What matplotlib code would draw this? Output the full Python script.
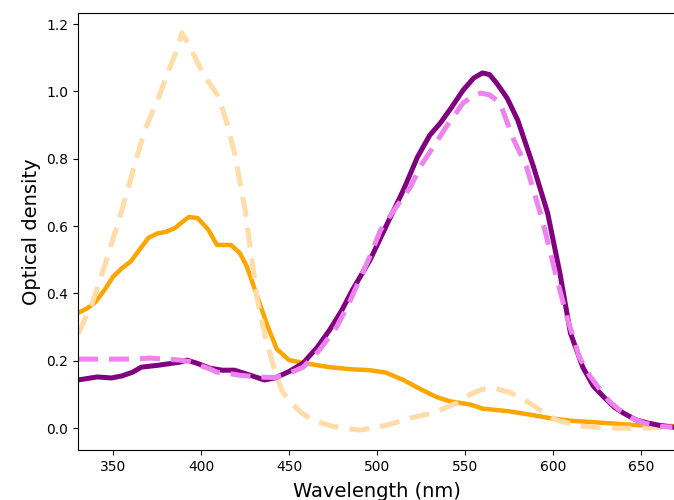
import numpy as np
import matplotlib
matplotlib.use("Agg")
import matplotlib.pyplot as plt

# --- data (wavelength nm, optical density) ---
wl_orange = [330, 335, 340, 345, 350, 355, 360, 365, 370, 375, 380, 385, 390, 393,
             398, 404, 409, 417, 422, 426, 430, 434, 438, 443, 450, 460, 473, 485,
             496, 505, 515, 525, 534, 541, 553, 560, 575, 587, 598, 610, 622, 636,
             650, 668]
od_orange = [0.342, 0.355, 0.375, 0.41, 0.45, 0.475, 0.495, 0.53, 0.565, 0.578,
             0.583, 0.594, 0.615, 0.627, 0.624, 0.59, 0.544, 0.544, 0.52, 0.48,
             0.42, 0.36, 0.30, 0.235, 0.202, 0.192, 0.181, 0.175, 0.172, 0.165,
             0.143, 0.115, 0.092, 0.080, 0.070, 0.058, 0.050, 0.040, 0.030, 0.022,
             0.018, 0.013, 0.008, 0.006]

wl_orange_ref = [330, 338, 345, 354, 361, 368, 375, 381, 386, 389, 393, 398, 404,
                 410, 415, 419, 425, 432, 437, 442, 446, 450, 456, 463, 475, 490,
                 505, 519, 532, 545, 553, 560, 568, 576, 587, 595, 602, 615, 631,
                 650, 668]
od_orange_ref = [0.28, 0.37, 0.48, 0.63, 0.76, 0.886, 0.97, 1.055, 1.12, 1.174,
                 1.14, 1.085, 1.03, 0.984, 0.90, 0.817, 0.648, 0.38, 0.26, 0.17,
                 0.11, 0.083, 0.05, 0.024, 0.005, -0.006, 0.008, 0.03, 0.045,
                 0.074, 0.10, 0.116, 0.117, 0.105, 0.074, 0.045, 0.024, 0.006,
                 0.0, 0.0, 0.003]

wl_purple = [330, 341, 349, 355, 361, 366, 376, 388, 392, 398, 405, 412, 419, 428,
             436, 442, 450, 458, 466, 473, 480, 486, 496, 506, 515, 523, 530, 536,
             542, 549, 555, 560, 564, 568, 574, 580, 589, 597, 604, 610, 617, 623,
             629, 635, 640, 647, 654, 661, 668]
od_purple = [0.143, 0.152, 0.149, 0.155, 0.166, 0.181, 0.187, 0.196, 0.202, 0.192,
             0.178, 0.172, 0.172, 0.157, 0.143, 0.149, 0.168, 0.193, 0.24, 0.291,
             0.35, 0.41, 0.499, 0.609, 0.707, 0.805, 0.87, 0.906, 0.95, 1.004,
             1.04, 1.055, 1.05, 1.025, 0.98, 0.915, 0.776, 0.639, 0.46, 0.282,
             0.181, 0.125, 0.092, 0.062, 0.045, 0.025, 0.015, 0.008, 0.003]

wl_violet = [330, 345, 360, 371, 380, 388, 394, 399, 405, 409, 415, 422, 432, 442,
             450, 458, 467, 477, 484, 490, 496, 502, 510, 519, 525, 532, 540, 549,
             555, 559, 564, 570, 577, 585, 594, 602, 608, 615, 621, 627, 632, 638,
             645, 652, 657, 662, 668]
od_violet = [0.205, 0.205, 0.205, 0.208, 0.205, 0.202, 0.197, 0.187, 0.176, 0.166,
             0.163, 0.157, 0.152, 0.15, 0.163, 0.181, 0.23, 0.30, 0.37, 0.44,
             0.51, 0.588, 0.65, 0.716, 0.78, 0.835, 0.90, 0.966, 0.988, 0.995,
             0.99, 0.966, 0.865, 0.776, 0.618, 0.449, 0.33, 0.211, 0.155, 0.113,
             0.08, 0.053, 0.03, 0.015, 0.009, 0.005, 0.003]

fig = plt.figure(figsize=(6.74, 5), dpi=100)
ax = fig.add_axes([78 / 674, 50 / 500, 598 / 674, 437 / 500])

ax.plot(wl_orange, od_orange, color="orange", linewidth=3.2)
ax.plot(wl_orange_ref, od_orange_ref, color="#FFDCA8", linewidth=3.6,
        linestyle=(0, (4, 2.2)))
ax.plot(wl_purple, od_purple, color="purple", linewidth=3.6)
ax.plot(wl_violet, od_violet, color="violet", linewidth=3.6,
        linestyle=(0, (4, 2.2)))

ax.set_xlim(330, 670)
ax.set_ylim(-0.065, 1.233)
ax.set_xticks([350, 400, 450, 500, 550, 600, 650])
ax.set_yticks([0.0, 0.2, 0.4, 0.6, 0.8, 1.0, 1.2])
ax.tick_params(labelsize=10)
ax.set_xlabel("Wavelength (nm)", fontsize=14, labelpad=6)
ax.set_ylabel("Optical density", fontsize=14)

fig.savefig("out.png", dpi=100)
